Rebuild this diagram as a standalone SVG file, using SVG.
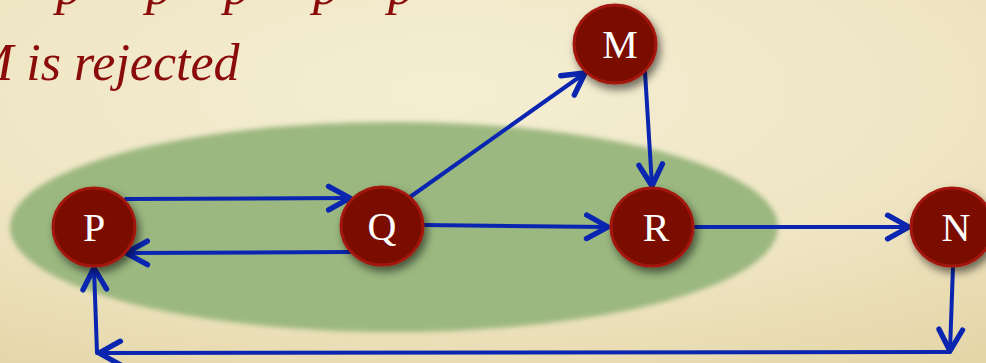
<svg xmlns="http://www.w3.org/2000/svg" width="986" height="363" viewBox="0 0 986 363">
  <defs>
    <radialGradient id="bg" cx="0.45" cy="0.25" r="0.9">
      <stop offset="0" stop-color="#f5eed3"/>
      <stop offset="0.6" stop-color="#efe5c3"/>
      <stop offset="1" stop-color="#e5d6a8"/>
    </radialGradient>
    <filter id="soft" x="-10%" y="-20%" width="120%" height="140%">
      <feGaussianBlur stdDeviation="2.5"/>
    </filter>
    <filter id="shadow" x="-40%" y="-40%" width="190%" height="190%">
      <feDropShadow dx="3" dy="5" stdDeviation="4" flood-color="#000" flood-opacity="0.55"/>
    </filter>
    <marker id="arrow" markerUnits="userSpaceOnUse" markerWidth="30" markerHeight="30" refX="0" refY="0" viewBox="-24 -14 28 28" orient="auto" overflow="visible">
      <path d="M-20,-11 L0,0 L-20,11" fill="none" stroke="#0a25b0" stroke-width="5" stroke-linecap="round" stroke-linejoin="round"/>
    </marker>
    <style>
      .edge { fill: none; stroke: #0a25b0; stroke-width: 4; stroke-linecap: round; }
      .arr { marker-end: url(#arrow); }
      .node { fill: #7a0b03; stroke: #a3180a; stroke-width: 3; filter: url(#shadow); }
      .lbl { font-family: "Liberation Serif", "DejaVu Serif", serif; font-size: 40px; fill: #ffffff; text-anchor: middle; }
      .top { font-family: "Liberation Serif", "DejaVu Serif", serif; font-style: italic; font-size: 52px; fill: #8a0c0a; }
    </style>
  </defs>

  <rect width="986" height="363" fill="url(#bg)"/>

  <!-- green region -->
  <ellipse cx="394" cy="227" rx="384" ry="105" fill="#9bb880" filter="url(#soft)"/>

  <!-- texts -->
  <text class="top" y="4"><tspan x="56">p</tspan><tspan x="146">p</tspan><tspan x="224">p</tspan><tspan x="313">p</tspan><tspan x="388">p</tspan></text>
  <text class="top" x="-30" y="80">M is rejected</text>

  <!-- connectors -->
  <g id="connectors">
    <line class="edge arr" x1="126" y1="199" x2="350" y2="198"/>
    <line class="edge arr" x1="352" y1="252" x2="126" y2="253"/>
    <line class="edge arr" x1="410" y1="197" x2="585" y2="73"/>
    <line class="edge arr" x1="424" y1="225" x2="608" y2="227"/>
    <line class="edge arr" x1="645" y1="72" x2="652" y2="186"/>
    <line class="edge arr" x1="694" y1="227" x2="909" y2="227"/>
    <line class="edge arr" x1="953" y1="266" x2="950" y2="351"/>
    <line class="edge arr" x1="950" y1="352" x2="99" y2="353"/>
    <line class="edge arr" x1="97" y1="353" x2="94" y2="268"/>
  </g>

  <!-- nodes -->
  <g id="node-P">
    <ellipse class="node" cx="94" cy="227" rx="41" ry="39"/>
    <text class="lbl" x="94" y="241">P</text>
  </g>
  <g id="node-Q">
    <ellipse class="node" cx="382" cy="226" rx="41" ry="39"/>
    <text class="lbl" x="382" y="240">Q</text>
  </g>
  <g id="node-M">
    <ellipse class="node" cx="615" cy="44" rx="41" ry="39"/>
    <text class="lbl" x="620" y="58">M</text>
  </g>
  <g id="node-R">
    <ellipse class="node" cx="652" cy="227" rx="41" ry="39"/>
    <text class="lbl" x="656" y="241">R</text>
  </g>
  <g id="node-N">
    <ellipse class="node" cx="952" cy="227" rx="41" ry="39"/>
    <text class="lbl" x="956" y="241">N</text>
  </g>
</svg>
